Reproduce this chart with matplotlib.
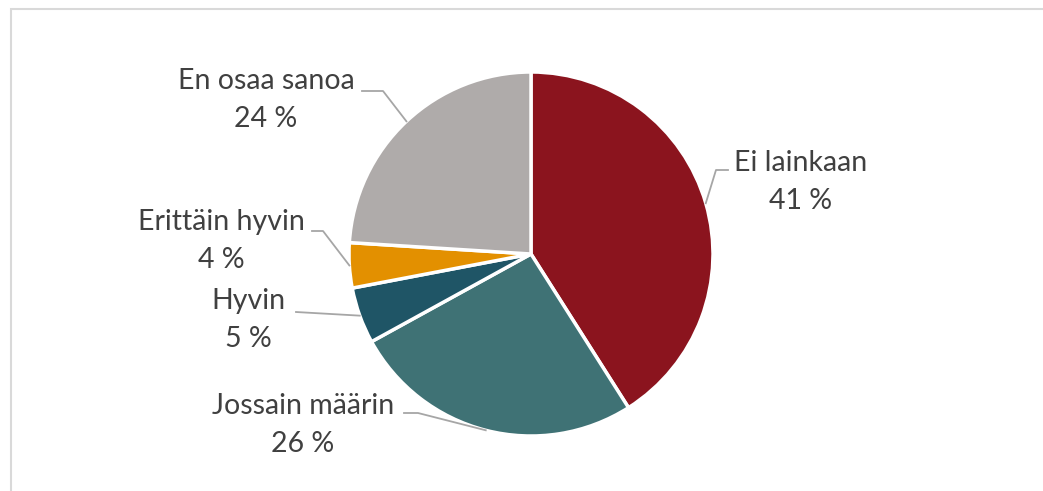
import numpy as np
import matplotlib.pyplot as plt
from matplotlib.patches import Rectangle

labels = ["Ei lainkaan", "Jossain määrin", "Hyvin", "Erittäin hyvin", "En osaa sanoa"]
values = [41, 26, 5, 4, 24]
colors = ["#8B141E", "#3F7275", "#1F5566", "#E39000", "#AFABAA"]

# label text centers (pixel coords, y from top) and leader elbow points
label_pos = [(801, 182), (303, 425), (248, 320), (221, 241), (266, 100)]
line_start = [(728, 170), (404, 413), (296, 312), (312, 231), (362, 91)]
elbows = [(716, 170), (418, 413), (296, 312), (323, 231), (383, 91)]

W, H = 1043, 491
fig = plt.figure(figsize=(W / 100, H / 100), dpi=100)
ax = fig.add_axes([0, 0, 1, 1])

# outer chart frame
ax.add_patch(Rectangle((11, -20), W + 20, H - 9 + 20, fill=False, edgecolor="#D9D9D9", lw=1.5))

cx, cy, r = 531, H - 254, 182
wedges, _ = ax.pie(values, colors=colors, startangle=90, counterclock=False,
                   center=(cx, cy), radius=r, frame=True,
                   wedgeprops=dict(edgecolor="white", linewidth=2.5))
ax.set_xlim(0, W)
ax.set_ylim(0, H)
ax.set_aspect("equal")
ax.axis("off")

for w, lab, v, pos, st, el in zip(wedges, labels, values, label_pos, line_start, elbows):
    mid = np.deg2rad((w.theta1 + w.theta2) / 2)
    ax_x = cx + r * np.cos(mid)
    ax_y = cy + r * np.sin(mid)
    ax.plot([st[0], el[0], ax_x], [H - st[1], H - el[1], ax_y], color="#A6A6A6", lw=1.3)
    ax.text(pos[0], H - pos[1], f"{lab}\n{v} %", ha="center", va="center",
            fontsize=20.5, color="#404040", family="Lato", linespacing=1.55)

fig.savefig("out.png", dpi=100)
